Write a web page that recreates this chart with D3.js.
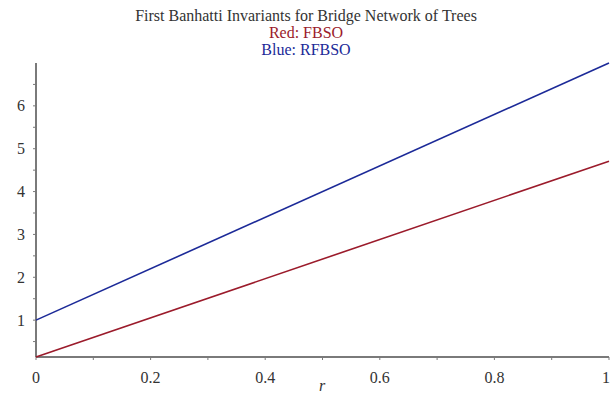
<!DOCTYPE html>
<html>
<head>
<meta charset="utf-8">
<script src="https://cdn.jsdelivr.net/npm/d3@7"></script>
<style>
  body { margin: 0; background: #fff; }
  text { font-family: "Liberation Serif", "DejaVu Serif", serif; }
</style>
</head>
<body>
<div id="chart"></div>
<script>
// values
var rValues = [0, 1];
var fbso = [0.14, 4.71];   // red
var rfbso = [1, 7];        // blue
var xTicks = [0, 0.2, 0.4, 0.6, 0.8, 1];
var xTickLabels = ["0", "0.2", "0.4", "0.6", "0.8", "1"];
var yTicks = [1, 2, 3, 4, 5, 6];

var width = 610, height = 395;
var margin = {top: 63, right: 1, bottom: 38, left: 36};

var svg = d3.select("#chart").append("svg")
    .attr("width", width)
    .attr("height", height);

var x = d3.scaleLinear()
    .domain([0, 1])
    .range([margin.left, width - margin.right]);
var y = d3.scaleLinear()
    .domain([0.14, 7])
    .range([height - margin.bottom, margin.top]);

// title lines
var titles = [
  {text: "First Banhatti Invariants for Bridge Network of Trees", color: "#333", y: 21},
  {text: "Red: FBSO", color: "#9b1b2b", y: 38},
  {text: "Blue: RFBSO", color: "#1c2a98", y: 55}
];
svg.selectAll(".title")
    .data(titles)
  .enter().append("text")
    .attr("class", "title")
    .attr("x", 306)
    .attr("y", function(d) { return d.y; })
    .attr("text-anchor", "middle")
    .attr("font-size", "16px")
    .attr("fill", function(d) { return d.color; })
    .text(function(d) { return d.text; });

var axisColor = "#7a7a7a";

// x axis
var xAxis = svg.append("g")
    .attr("transform", "translate(0," + y(0.14) + ")");
xAxis.append("line")
    .attr("x1", x(0)).attr("x2", x(1))
    .attr("stroke", axisColor).attr("stroke-width", 2);
xAxis.selectAll(".minor")
    .data(d3.range(0, 11).map(function(i) { return i / 10; }))
  .enter().append("line")
    .attr("x1", function(d) { return x(d); })
    .attr("x2", function(d) { return x(d); })
    .attr("y1", 0).attr("y2", 3)
    .attr("stroke", axisColor).attr("stroke-width", 1);
xAxis.selectAll(".lbl")
    .data(xTicks)
  .enter().append("text")
    .attr("x", function(d) { return x(d); })
    .attr("y", 26)
    .attr("text-anchor", function(d, i) { return i === xTicks.length - 1 ? "end" : "middle"; })
    .attr("dx", function(d, i) { return i === xTicks.length - 1 ? 1 : 0; })
    .attr("font-size", "16px")
    .attr("fill", "#333")
    .text(function(d, i) { return xTickLabels[i]; });

svg.append("text")
    .attr("x", 322)
    .attr("y", 391)
    .attr("text-anchor", "middle")
    .attr("font-size", "16px")
    .attr("font-style", "italic")
    .attr("fill", "#333")
    .text("r");

// y axis
var yAxis = svg.append("g")
    .attr("transform", "translate(" + x(0) + ",0)");
yAxis.append("line")
    .attr("y1", y(0.14)).attr("y2", y(7))
    .attr("stroke", axisColor).attr("stroke-width", 2);
yAxis.selectAll(".minor")
    .data(d3.range(1, 14).map(function(i) { return i / 2; }))
  .enter().append("line")
    .attr("y1", function(d) { return y(d); })
    .attr("y2", function(d) { return y(d); })
    .attr("x1", 0).attr("x2", -3)
    .attr("stroke", axisColor).attr("stroke-width", 1);
yAxis.selectAll(".lbl")
    .data(yTicks)
  .enter().append("text")
    .attr("x", -15)
    .attr("y", function(d) { return y(d); })
    .attr("dy", "0.35em")
    .attr("text-anchor", "middle")
    .attr("font-size", "16px")
    .attr("fill", "#333")
    .text(function(d) { return d; });

// lines
var series = [
  {values: fbso, color: "#9b1b2b"},
  {values: rfbso, color: "#1c2a98"}
];
var line = d3.line()
    .x(function(d, i) { return x(rValues[i]); })
    .y(function(d) { return y(d); });
svg.selectAll(".series")
    .data(series)
  .enter().append("path")
    .attr("class", "series")
    .attr("d", function(d) { return line(d.values); })
    .attr("fill", "none")
    .attr("stroke", function(d) { return d.color; })
    .attr("stroke-width", 1.6);
</script>
</body>
</html>
